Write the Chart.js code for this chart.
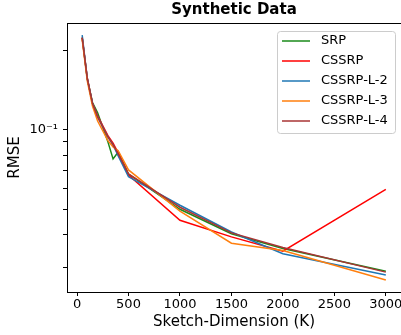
<!DOCTYPE html>
<html>
<head>
<meta charset="utf-8">
<script src="https://cdn.jsdelivr.net/npm/chart.js@4"></script>
<style>
  html, body { margin: 0; padding: 0; background: #ffffff; }
  #wrap { width: 401px; height: 335px; }
</style>
</head>
<body>
<div id="wrap"><canvas id="chart" width="401" height="335"></canvas></div>
<script>
const sketchDims = [50, 100, 150, 200, 300, 350, 400, 500, 1000, 1500, 2000, 3000];
const seriesNames = ["SRP", "CSSRP", "CSSRP-L-2", "CSSRP-L-3", "CSSRP-L-4"];
const srp     = [0.224, 0.156, 0.127, 0.116, 0.090, 0.0775, 0.0824, 0.0679, 0.0499, 0.0403, 0.0354, 0.0290];
const cssrp   = [0.224, 0.157, 0.126, 0.113, 0.095, 0.089, 0.0817, 0.0673, 0.0453, 0.0392, 0.0346, 0.0594];
const cssrpL2 = [0.229, 0.156, 0.126, 0.112, 0.094, 0.0877, 0.0796, 0.0663, 0.0517, 0.0409, 0.0338, 0.0281];
const cssrpL3 = [0.220, 0.153, 0.123, 0.108, 0.091, 0.086, 0.0832, 0.0704, 0.0491, 0.0371, 0.0348, 0.0269];
const cssrpL4 = [0.224, 0.156, 0.126, 0.112, 0.094, 0.0877, 0.081, 0.068, 0.0508, 0.0406, 0.0357, 0.0288];
const xTicks = [0, 500, 1000, 1500, 2000, 2500, 3000];
const yTicks = [0.03, 0.04, 0.05, 0.06, 0.07, 0.08, 0.09, 0.1, 0.2];
const colors = ["#1a8a1a", "#ff0000", "#1f77b4", "#ff7f0e", "#a83434"];
const chartTitle = "Synthetic Data";

const FONT = "'DejaVu Sans', sans-serif";
const allSeries = [srp, cssrp, cssrpL2, cssrpL3, cssrpL4];

const datasets = allSeries.map((vals, i) => ({
  label: seriesNames[i],
  data: vals.map((v, j) => ({x: sketchDims[j], y: v})),
  borderColor: colors[i],
  backgroundColor: colors[i],
  borderWidth: 1.5,
  pointRadius: 0,
  tension: 0,
  order: 5 - i,
}));

// frame, title and legend box drawn inside plot, matplotlib style
const framePlugin = {
  id: 'frame',
  afterDraw(chart) {
    const ctx = chart.ctx;
    const a = chart.chartArea;
    ctx.save();
    ctx.strokeStyle = '#000';
    ctx.lineWidth = 1;
    ctx.strokeRect(a.left + 0.5, a.top + 0.5, a.right - a.left, a.bottom - a.top);

    // title centred over the axes
    ctx.fillStyle = '#000';
    ctx.font = 'bold 15px ' + FONT;
    ctx.textAlign = 'center';
    ctx.textBaseline = 'middle';
    ctx.fillText(chartTitle, (a.left + a.right) / 2, 10);

    // legend
    const bx = a.right - 124, by = a.top + 8, bw = 118, bh = 102;
    ctx.beginPath();
    ctx.roundRect(bx + 0.5, by + 0.5, bw, bh, 3);
    ctx.fillStyle = 'rgba(255,255,255,0.8)';
    ctx.fill();
    ctx.strokeStyle = '#cccccc';
    ctx.stroke();
    ctx.font = '13px ' + FONT;
    ctx.textBaseline = 'middle';
    ctx.textAlign = 'left';
    chart.data.datasets.forEach((ds, i) => {
      const y = by + 10 + i * 20;
      ctx.strokeStyle = ds.borderColor;
      ctx.lineWidth = 1.5;
      ctx.beginPath();
      ctx.moveTo(bx + 5, y);
      ctx.lineTo(bx + 33, y);
      ctx.stroke();
      ctx.fillStyle = '#000';
      ctx.fillText(ds.label, bx + 44, y);
    });
    ctx.restore();
  }
};

new Chart(document.getElementById('chart'), {
  type: 'line',
  data: { datasets: datasets },
  plugins: [framePlugin],
  options: {
    responsive: false,
    animation: false,
    layout: { padding: { top: 23, left: 0, right: 0, bottom: 0 } },
    plugins: {
      legend: { display: false },
      tooltip: { enabled: false },
      title: { display: false },
    },
    scales: {
      x: {
        type: 'linear',
        min: -97.5,
        max: 3147.5,
        afterBuildTicks: (scale) => { scale.ticks = xTicks.map(v => ({value: v})); },
        afterFit: (scale) => {
          scale.height = 43;
          scale.paddingLeft = 0;
          scale.paddingRight = 0;
        },
        ticks: {
          color: '#000',
          font: { family: FONT, size: 13 },
          padding: 1,
          maxRotation: 0,
          autoSkip: false,
          callback: (v) => String(v),
        },
        grid: { display: true, drawOnChartArea: false, tickLength: 4, color: '#000' },
        border: { display: true, color: '#000', width: 1 },
        title: {
          display: true,
          text: 'Sketch-Dimension (K)',
          color: '#000',
          font: { family: FONT, size: 15 },
          padding: { top: 0, bottom: 4 },
        },
      },
      y: {
        type: 'logarithmic',
        min: 0.0242,
        max: 0.2546,
        afterBuildTicks: (scale) => { scale.ticks = yTicks.map(v => ({value: v})); },
        afterFit: (scale) => {
          scale.width = 67;
          scale.paddingTop = 0;
          scale.paddingBottom = 0;
        },
        ticks: {
          color: '#000',
          font: { family: FONT, size: 13 },
          padding: 5,
          autoSkip: false,
          callback: (v) => (Math.abs(v - 0.1) < 1e-9 ? '10\u207B\u00B9' : ''),
        },
        grid: { display: true, drawOnChartArea: false, tickLength: 4, color: '#000' },
        border: { display: true, color: '#000', width: 1 },
        title: {
          display: true,
          text: 'RMSE',
          color: '#000',
          font: { family: FONT, size: 15 },
          padding: { top: 6, bottom: 0 },
        },
      },
    },
  },
});
</script>
</body>
</html>
